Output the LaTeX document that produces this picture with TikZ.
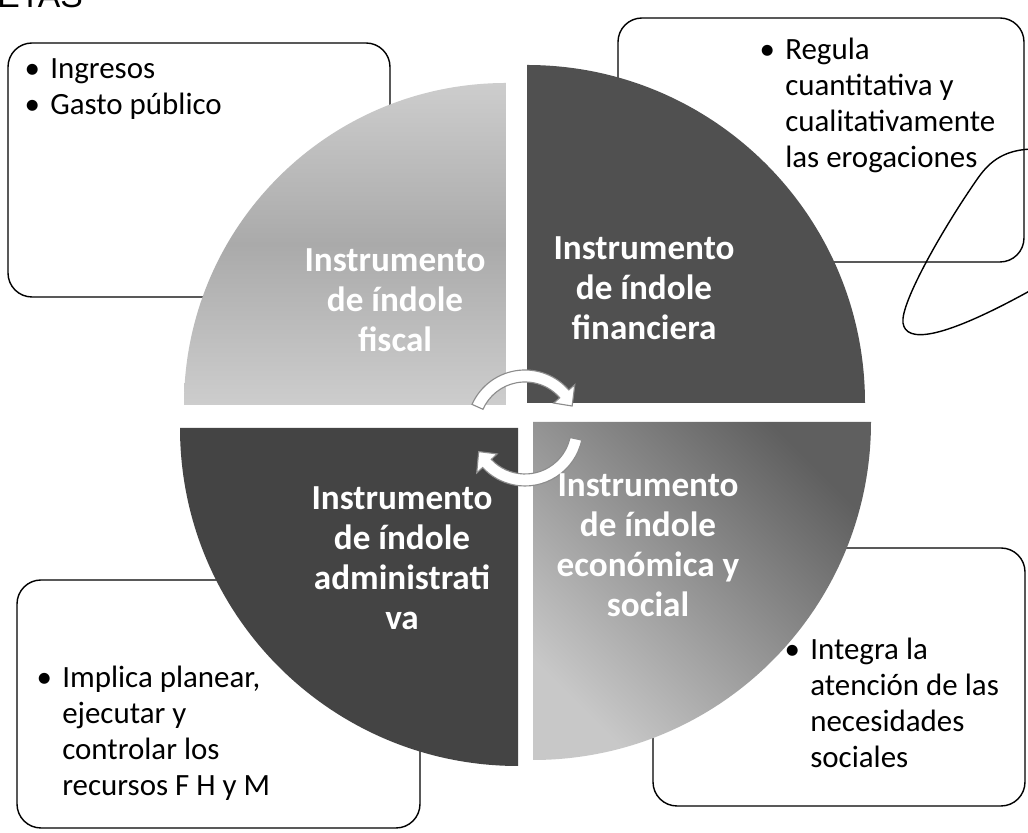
\documentclass[tikz,border=0pt]{standalone}
\usepackage{fontspec}
\setmainfont{Carlito}
\newfontfamily\headfont{Liberation Sans}
\definecolor{qlight}{RGB}{205,205,205}
\definecolor{qband}{RGB}{170,170,170}
\definecolor{qdark}{RGB}{80,80,80}
\definecolor{qdarker}{RGB}{68,68,68}
\definecolor{qmid}{RGB}{95,95,95}
\definecolor{qpale}{RGB}{200,200,200}
\newcommand{\bul}{\makebox[0.9cm][c]{\textbullet}}
\newcommand{\cyclearrow}[2]{%
  \filldraw[arrowband] (#1:58) arc[start angle=#1, end angle=#2+16, radius=58]
    -- (#2+16:66) -- (#2:52) -- (#2+16:38) -- (#2+16:46)
    arc[start angle=#2+16, end angle=#1, radius=46] -- cycle;}

\begin{document}
\begin{tikzpicture}[x=0.025cm, y=0.025cm,
    box/.style={draw, line width=1pt, rounded corners=0.6cm, fill=white},
    boxtext/.style={anchor=base west, inner sep=0pt, font=\fontsize{22}{25.5}\selectfont},
    quadtext/.style={align=center, text=white, inner sep=0pt, font=\bfseries\fontsize{25}{28.5}\selectfont},
    arrowband/.style={fill=white, draw=black!45, line width=0.8pt}]
    \useasboundingbox (0,0) rectangle (1028,833);
    \fill[white] (0,0) rectangle (1028,833);

    \node[anchor=base west, inner sep=0pt, font=\headfont\fontsize{24}{28}\selectfont] (title) at (-3,825) {ETAS};

    \draw[box] (8,536) rectangle (390,790);
    \draw[box] (618,571) rectangle (1024,815);
    \draw[box] (17,5) rectangle (420,253);
    \draw[box] (653,27) rectangle (1025,285);

    \shade[top color=qlight, bottom color=qlight, middle color=qband] (506,428) -- ++(-322,0) arc[start angle=180, end angle=90, radius=322] -- cycle;
    \fill[qdark] (527,430) -- ++(0,338) arc[start angle=90, end angle=0, radius=338] -- cycle;
    \fill[qdarker] (518,405) -- ++(0,-338) arc[start angle=270, end angle=180, radius=338] -- cycle;
    \shade[top color=qmid, bottom color=qpale, shading angle=-45] (533,411) -- ++(338,0) arc[start angle=0, end angle=-90, radius=338] -- cycle;

    \coordinate (arr) at (525,405);
    \begin{scope}[shift={(arr)}]
        \cyclearrow{156}{25}
        \cyclearrow{-12}{-153}
    \end{scope}

    \node[quadtext] (fiscal) at (395,533) {Instrumento\\de índole\\fiscal};
    \node[quadtext] (financiera) at (644,545) {Instrumento\\de índole\\financiera};
    \node[quadtext] (administrativa) at (402,275) {Instrumento\\de índole\\administrati\\va};
    \node[quadtext] (economica) at (648,288) {Instrumento\\de índole\\económica y\\social};

    \node[boxtext] (fiscaltxt) at (14,754) {\begin{tabular}[t]{@{}l@{}l@{}}\bul&Ingresos\\\bul&Gasto público\end{tabular}};
    \node[boxtext] (financieratxt) at (749,773) {\begin{tabular}[t]{@{}l@{}l@{}}\bul&Regula\\&cuantitativa y\\&cualitativamente\\&las erogaciones\end{tabular}};
    \node[boxtext] (administrativatxt) at (26,145) {\begin{tabular}[t]{@{}l@{}l@{}}\bul&Implica planear,\\&ejecutar y\\&controlar los\\&recursos F H y M\end{tabular}};
    \node[boxtext] (economicatxt) at (774,173) {\begin{tabular}[t]{@{}l@{}l@{}}\bul&Integra la\\&atención de las\\&necesidades\\&sociales\end{tabular}};

    \draw[line width=1pt] (1035,684) .. controls (1005,684) and (990,672) .. (978,655)
        .. controls (945,608) and (900,530) .. (903,510)
        .. controls (906,490) and (940,492) .. (1035,545);
\end{tikzpicture}
\end{document}
